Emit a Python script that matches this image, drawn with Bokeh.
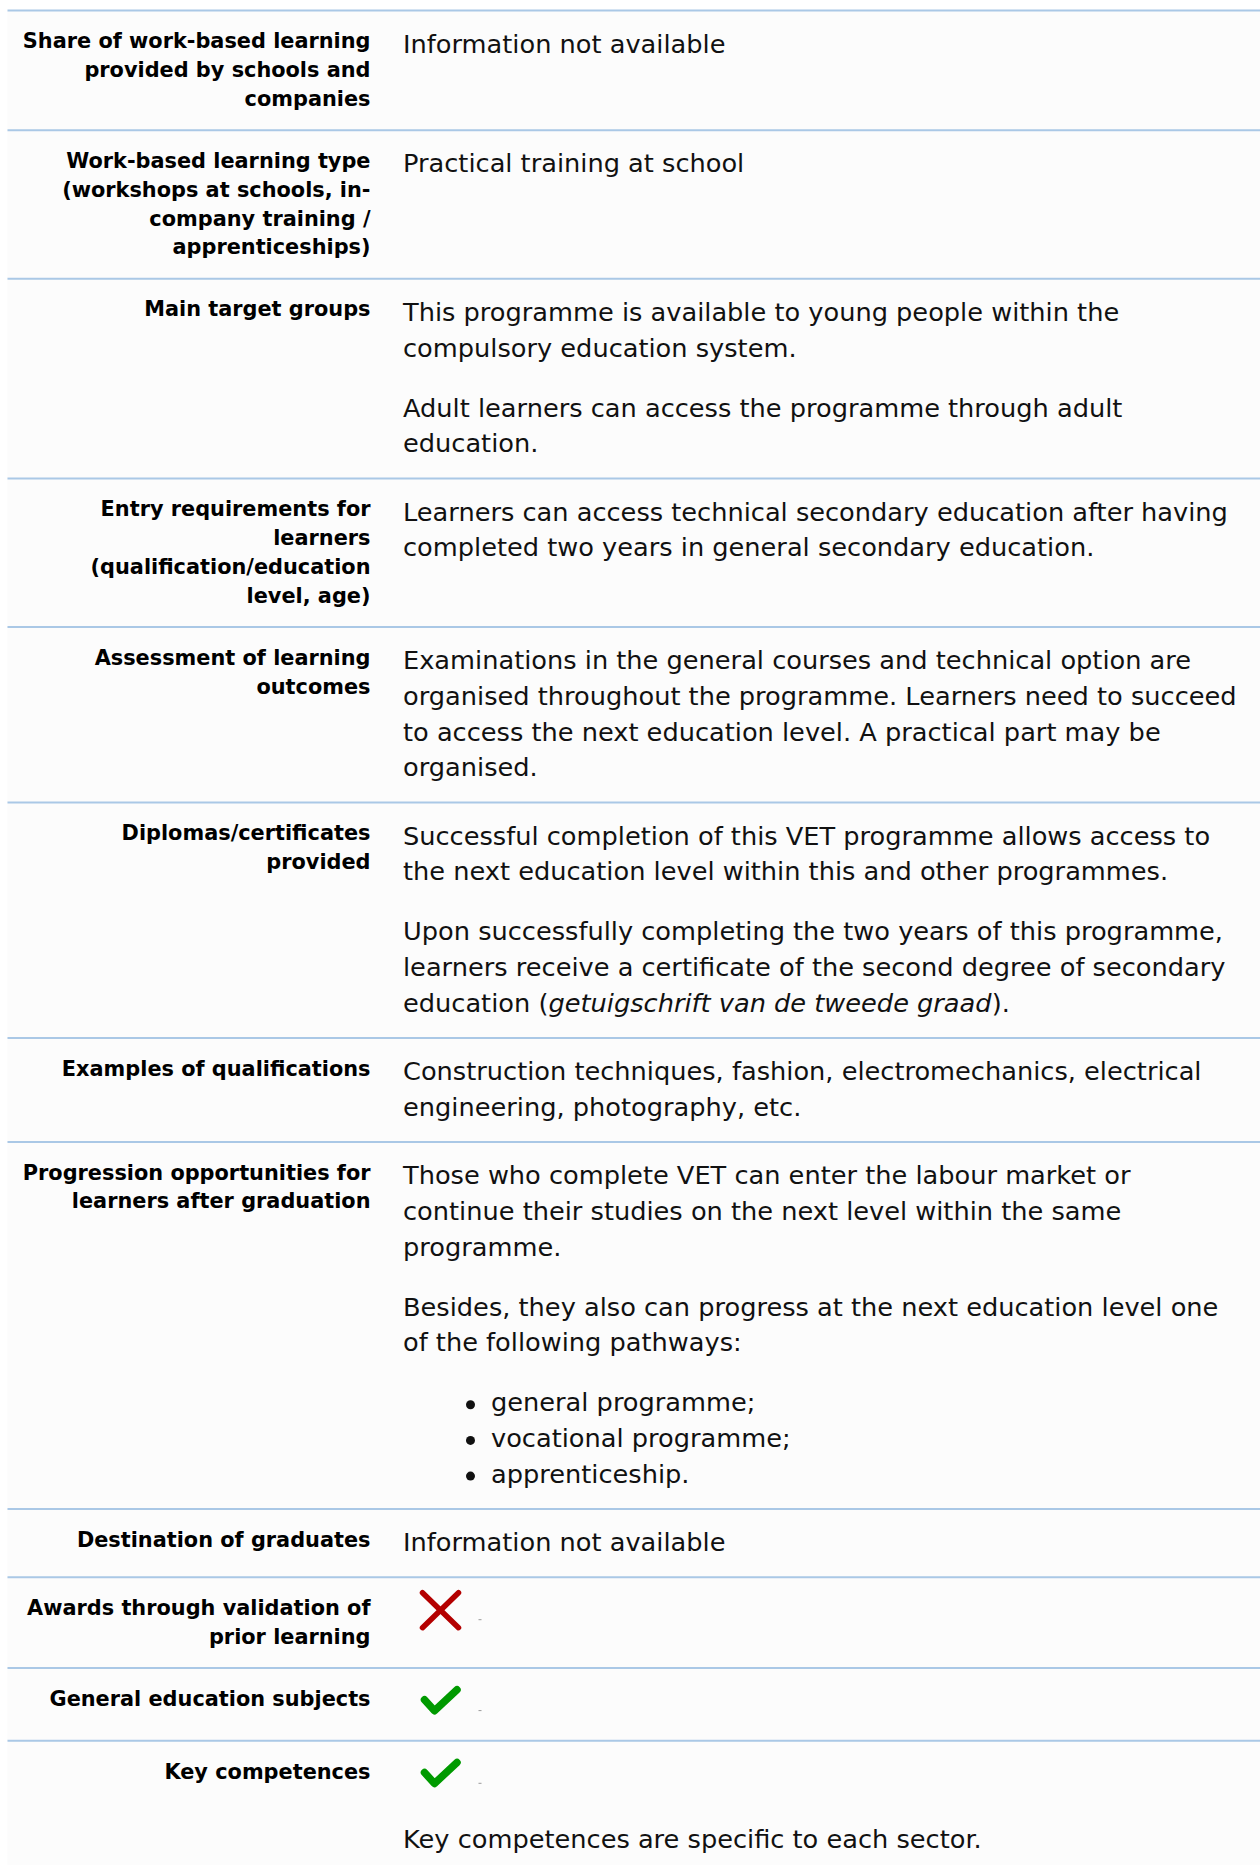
from bokeh.plotting import figure
from bokeh.models import Range1d, ColumnDataSource
from bokeh.core.properties import value
from bokeh.embed import file_html
from bokeh.resources import INLINE

# ---------------- data ----------------
row_labels = [
    ["Share of work-based learning", "provided by schools and", "companies"],
    ["Work-based learning type", "(workshops at schools, in-", "company training /", "apprenticeships)"],
    ["Main target groups"],
    ["Entry requirements for", "learners", "(qualification/education", "level, age)"],
    ["Assessment of learning", "outcomes"],
    ["Diplomas/certificates", "provided"],
    ["Examples of qualifications"],
    ["Progression opportunities for", "learners after graduation"],
    ["Destination of graduates"],
    ["Awards through validation of", "prior learning"],
    ["General education subjects"],
    ["Key competences"],
]

# blocks: ("p", lines) paragraph, ("ul", items) bullet list, ("icon", kind)
# *...* marks italic text inside a line
row_values = [
    [("p", ["Information not available"])],
    [("p", ["Practical training at school"])],
    [("p", ["This programme is available to young people within the",
            "compulsory education system."]),
     ("p", ["Adult learners can access the programme through adult",
            "education."])],
    [("p", ["Learners can access technical secondary education after having",
            "completed two years in general secondary education."])],
    [("p", ["Examinations in the general courses and technical option are",
            "organised throughout the programme. Learners need to succeed",
            "to access the next education level. A practical part may be",
            "organised."])],
    [("p", ["Successful completion of this VET programme allows access to",
            "the next education level within this and other programmes."]),
     ("p", ["Upon successfully completing the two years of this programme,",
            "learners receive a certificate of the second degree of secondary",
            "education (*getuigschrift van de tweede graad*)."])],
    [("p", ["Construction techniques, fashion, electromechanics, electrical",
            "engineering, photography, etc."])],
    [("p", ["Those who complete VET can enter the labour market or",
            "continue their studies on the next level within the same",
            "programme."]),
     ("p", ["Besides, they also can progress at the next education level one",
            "of the following pathways:"]),
     ("ul", ["general programme;", "vocational programme;", "apprenticeship."])],
    [("p", ["Information not available"])],
    [("icon", "cross")],
    [("icon", "check")],
    [("icon", "check"),
     ("p", ["Key competences are specific to each sector."])],
]

# ---------------- styles / layout constants ----------------
FONT = "DejaVu Sans"
LABEL_FS, VALUE_FS = 20.85, 25.65
LABEL_LH, VALUE_LH = 28.8, 35.7
LABEL_FIRST, VALUE_FIRST = 37.8, 42.0
LABEL_PAD, VALUE_PAD = 24.3, 26.3
PARA_GAP, ICON_EXTRA = 24.4, 4.4
LABEL_X, VALUE_X = 370.0, 402.5
TABLE_TOP = 10.0
BASE_SHIFT = 0.34          # compensates the renderer's alphabetic-baseline offset (em)
LINE_COLOR = "#aac8e6"
TEXT_COLOR = "#111111"

# DejaVu Sans advance widths (units per 2048 em) for inline italic placement
DV = {' ': 651, '(': 799, ')': 799, '.': 651, ',': 651, 'a': 1255, 'b': 1300,
      'c': 1126, 'd': 1300, 'e': 1260, 'f': 721, 'g': 1300, 'h': 1298, 'i': 569,
      'j': 569, 'k': 1186, 'l': 569, 'm': 1995, 'n': 1298, 'o': 1253, 'p': 1300,
      'q': 1300, 'r': 842, 's': 1067, 't': 803, 'u': 1298, 'v': 1212, 'w': 1675,
      'x': 1212, 'y': 1212, 'z': 1075}


def text_w(s, fs):
    return sum(DV.get(c, 1250) for c in s) / 2048.0 * fs


W, H = 1260, 1865
p = figure(width=W, height=H, x_range=Range1d(0, W), y_range=Range1d(H, 0),
           output_backend="svg", toolbar_location=None, x_axis_type=None,
           y_axis_type=None, min_border=0, background_fill_color="white",
           border_fill_color="white")
p.outline_line_color = None

lab = dict(x=[], y=[], t=[])
val = dict(x=[], y=[], t=[])
ita = dict(x=[], y=[], t=[])
bul = dict(x=[], y=[])
cross = dict(x0=[], y0=[], x1=[], y1=[])
checks = dict(xs=[], ys=[])
dash = dict(x0=[], y0=[], x1=[], y1=[])
rules = []

lab_dy = BASE_SHIFT * LABEL_FS
val_dy = BASE_SHIFT * VALUE_FS

top = TABLE_TOP
for labels, blocks in zip(row_labels, row_values):
    rules.append(top)
    # label column
    b = top + LABEL_FIRST
    for i, line in enumerate(labels):
        lab["x"].append(LABEL_X)
        lab["y"].append(b + i * LABEL_LH - lab_dy)
        lab["t"].append(line)
    label_bottom = b + (len(labels) - 1) * LABEL_LH + LABEL_PAD
    # value column
    b = top + VALUE_FIRST
    last = b
    extra = 0.0
    for kind, content in blocks:
        if kind == "icon":
            cx, cy = VALUE_X + 37.5, b - 9
            if content == "cross":
                cross["x0"] += [cx - 18, cx - 18]
                cross["y0"] += [cy - 17.5, cy + 17.5]
                cross["x1"] += [cx + 18, cx + 18]
                cross["y1"] += [cy + 17.5, cy - 17.5]
            else:
                checks["xs"].append([cx - 16, cx - 6, cx + 16.5])
                checks["ys"].append([cy - 1.3, cy + 9.7, cy - 11.3])
            dash["x0"].append(VALUE_X + 75.5)
            dash["x1"].append(VALUE_X + 78.5)
            dash["y0"].append(b + 0.5)
            dash["y1"].append(b + 0.5)
            last = b
            extra = ICON_EXTRA
            b = last + VALUE_LH + PARA_GAP + extra
            continue
        for line in content:
            if kind == "ul":
                bul["x"].append(VALUE_X + 67.5)
                bul["y"].append(b - 6.5)
                val["x"].append(VALUE_X + 88)
                val["y"].append(b - val_dy)
                val["t"].append(line)
            elif "*" in line:
                x = VALUE_X
                for j, seg in enumerate(line.split("*")):
                    tgt = ita if j % 2 == 1 else val
                    if seg:
                        tgt["x"].append(x)
                        tgt["y"].append(b - val_dy)
                        tgt["t"].append(seg)
                    x += text_w(seg, VALUE_FS)
            else:
                val["x"].append(VALUE_X)
                val["y"].append(b - val_dy)
                val["t"].append(line)
            last = b
            b += VALUE_LH
        extra = 0.0
        b = last + VALUE_LH + PARA_GAP
    value_bottom = last + VALUE_PAD + extra
    top = max(label_bottom, value_bottom)
rules.append(top)

# table background
p.quad(left=[7], right=[W], top=[TABLE_TOP], bottom=[H],
       fill_color="#fcfcfc", line_color=None)

# row rules
p.segment(x0=[7] * len(rules), x1=[W] * len(rules), y0=rules, y1=rules,
          line_color=LINE_COLOR, line_width=2)

p.text(x="x", y="y", text="t", source=ColumnDataSource(lab),
       text_font=value(FONT), text_font_size=f"{LABEL_FS}px", text_font_style="bold",
       text_align="right", text_baseline="alphabetic", text_color="black")
p.text(x="x", y="y", text="t", source=ColumnDataSource(val),
       text_font=value(FONT), text_font_size=f"{VALUE_FS}px",
       text_align="left", text_baseline="alphabetic", text_color=TEXT_COLOR)
p.text(x="x", y="y", text="t", source=ColumnDataSource(ita),
       text_font=value(FONT), text_font_size=f"{VALUE_FS}px", text_font_style="italic",
       text_align="left", text_baseline="alphabetic", text_color=TEXT_COLOR)
p.scatter(x="x", y="y", source=ColumnDataSource(bul), marker="circle", size=9,
          fill_color=TEXT_COLOR, line_color=None)
p.segment(x0="x0", y0="y0", x1="x1", y1="y1", source=ColumnDataSource(cross),
          line_color="#b40000", line_width=5.5, line_cap="round")
p.multi_line(xs="xs", ys="ys", source=ColumnDataSource(checks),
             line_color="#009a00", line_width=7.5, line_cap="round", line_join="round")
p.segment(x0="x0", y0="y0", x1="x1", y1="y1", source=ColumnDataSource(dash),
          line_color="#9a9a9a", line_width=1)

open("out.html", "w").write(file_html(p, INLINE))
